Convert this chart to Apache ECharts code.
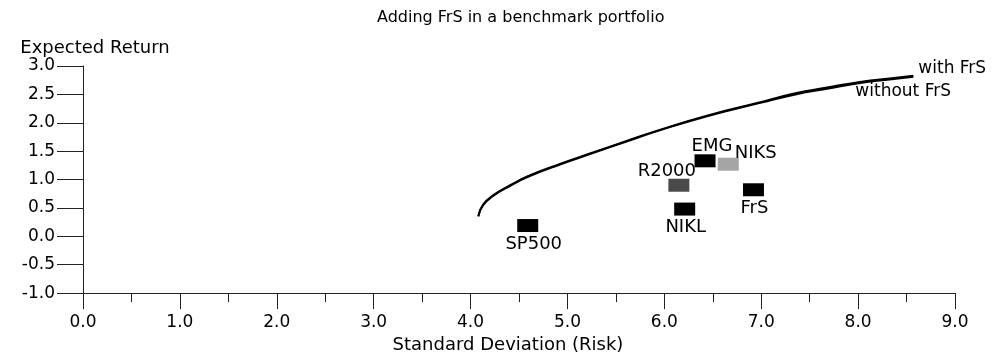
<!DOCTYPE html>
<html>
<head>
<meta charset="utf-8">
<script src="https://cdn.jsdelivr.net/npm/echarts@6/dist/echarts.min.js"></script>
<style>
html,body{margin:0;padding:0;background:#fff;}
#chart{width:999px;height:359px;}
</style>
</head>
<body>
<div id="chart"></div>
<script>
// ---- data ----
var chartTitle = 'Adding FrS in a benchmark portfolio';
var xAxisTitle = 'Standard Deviation (Risk)';
var yAxisTitle = 'Expected Return';

var assetNames  = ['SP500', 'R2000', 'EMG', 'NIKS', 'NIKL', 'FrS'];
var assetRisk   = [4.59, 6.15, 6.42, 6.66, 6.21, 6.92];
var assetReturn = [0.19, 0.90, 1.33, 1.27, 0.48, 0.82];

var frontierRisk       = [4.08, 4.13, 4.24, 4.41, 4.58, 4.93, 5.27, 5.61, 5.96, 6.45, 6.99, 7.33, 7.68, 8.02, 8.37, 8.57];
var frontierWithFrS    = [0.36, 0.56, 0.73, 0.90, 1.05, 1.28, 1.48, 1.68, 1.88, 2.13, 2.36, 2.51, 2.62, 2.72, 2.79, 2.83];
var frontierWithoutFrS = [0.35, 0.55, 0.72, 0.89, 1.04, 1.27, 1.47, 1.67, 1.87, 2.12, 2.35, 2.49, 2.60, 2.70, 2.77, 2.81];

var xTicks = [0, 1, 2, 3, 4, 5, 6, 7, 8, 9];
var yTicks = [-1.0, -0.5, 0.0, 0.5, 1.0, 1.5, 2.0, 2.5, 3.0];

// ---- styles (kept apart from the data) ----
var FONT = 'DejaVu Sans';
var pointStyle = {
  'SP500': {color: '#000', label: {position: 'bottom', distance: 3, offset: [6, 0]}},
  'R2000': {color: '#4a4a4a', label: {position: 'top', distance: 0, offset: [-12, 2]}},
  'EMG':   {color: '#000', label: {position: 'top', distance: 1, offset: [7, 2]}},
  'NIKS':  {color: '#a5a5a5', label: {position: 'right', distance: 0, offset: [-4, -11]}},
  'NIKL':  {color: '#000', label: {position: 'bottom', distance: 3, offset: [1, 0]}},
  'FrS':   {color: '#000', label: {position: 'bottom', distance: 3, offset: [1, 0]}}
};

var scatterData = assetNames.map(function (n, i) {
  var st = pointStyle[n];
  return {
    name: n,
    value: [assetRisk[i], assetReturn[i]],
    itemStyle: {color: st.color, opacity: 1},
    label: Object.assign({show: true, formatter: n, color: '#000', opacity: 1, fontSize: 18, fontFamily: FONT}, st.label)
  };
});

var withData = frontierRisk.map(function (x, i) { return [x, frontierWithFrS[i]]; });
var withoutData = frontierRisk.map(function (x, i) { return [x, frontierWithoutFrS[i]]; });

var chart = echarts.init(document.getElementById('chart'), null, {renderer: 'canvas'});
chart.setOption({
  animation: false,
  backgroundColor: '#fff',
  title: {
    text: chartTitle,
    left: 372,
    top: 5,
    textStyle: {fontFamily: FONT, fontSize: 16, fontWeight: 'normal', color: '#000'}
  },
  grid: {left: 83, right: 44, top: 66, bottom: 59, containLabel: false},
  xAxis: {
    type: 'value',
    min: xTicks[0],
    max: xTicks[xTicks.length - 1],
    interval: 1,
    name: xAxisTitle,
    nameLocation: 'middle',
    nameGap: 37,
    nameTextStyle: {fontFamily: FONT, fontSize: 18, color: '#000', padding: [0, 22, 0, 0]},
    axisLine: {onZero: false, lineStyle: {color: '#222', width: 1}},
    axisTick: {show: true, length: 16, lineStyle: {color: '#222'}},
    minorTick: {show: true, splitNumber: 2, length: 9, lineStyle: {color: '#222'}},
    axisLabel: {
      margin: 21, fontFamily: FONT, fontSize: 17, color: '#000',
      formatter: function (v) { return v.toFixed(1); }
    },
    splitLine: {show: false},
    minorSplitLine: {show: false}
  },
  yAxis: {
    type: 'value',
    min: yTicks[0],
    max: yTicks[yTicks.length - 1],
    interval: 0.5,
    name: yAxisTitle,
    nameLocation: 'end',
    nameGap: 7,
    nameTextStyle: {fontFamily: FONT, fontSize: 18, color: '#000', padding: [0, 0, 0, 24]},
    axisLine: {onZero: false, lineStyle: {color: '#222', width: 1}},
    axisTick: {show: true, length: 26, lineStyle: {color: '#222'}},
    axisLabel: {
      margin: 28, fontFamily: FONT, fontSize: 17, color: '#000',
      formatter: function (v) { return v.toFixed(1); }
    },
    splitLine: {show: false}
  },
  series: [
    {
      name: 'without FrS',
      type: 'line',
      data: withoutData,
      smooth: true,
      symbol: 'none',
      lineStyle: {color: '#000', width: 2},
      endLabel: {show: true, formatter: 'without FrS', fontFamily: FONT, fontSize: 17, color: '#000', offset: [-66, 15]}
    },
    {
      name: 'with FrS',
      type: 'line',
      data: withData,
      smooth: true,
      symbol: 'none',
      lineStyle: {color: '#000', width: 2},
      endLabel: {show: true, formatter: 'with FrS', fontFamily: FONT, fontSize: 17, color: '#000', offset: [-3, -7]}
    },
    {
      name: 'assets',
      type: 'scatter',
      symbol: 'rect',
      symbolSize: [21, 13],
      data: scatterData,
      z: 5
    }
  ]
});
</script>
</body>
</html>
